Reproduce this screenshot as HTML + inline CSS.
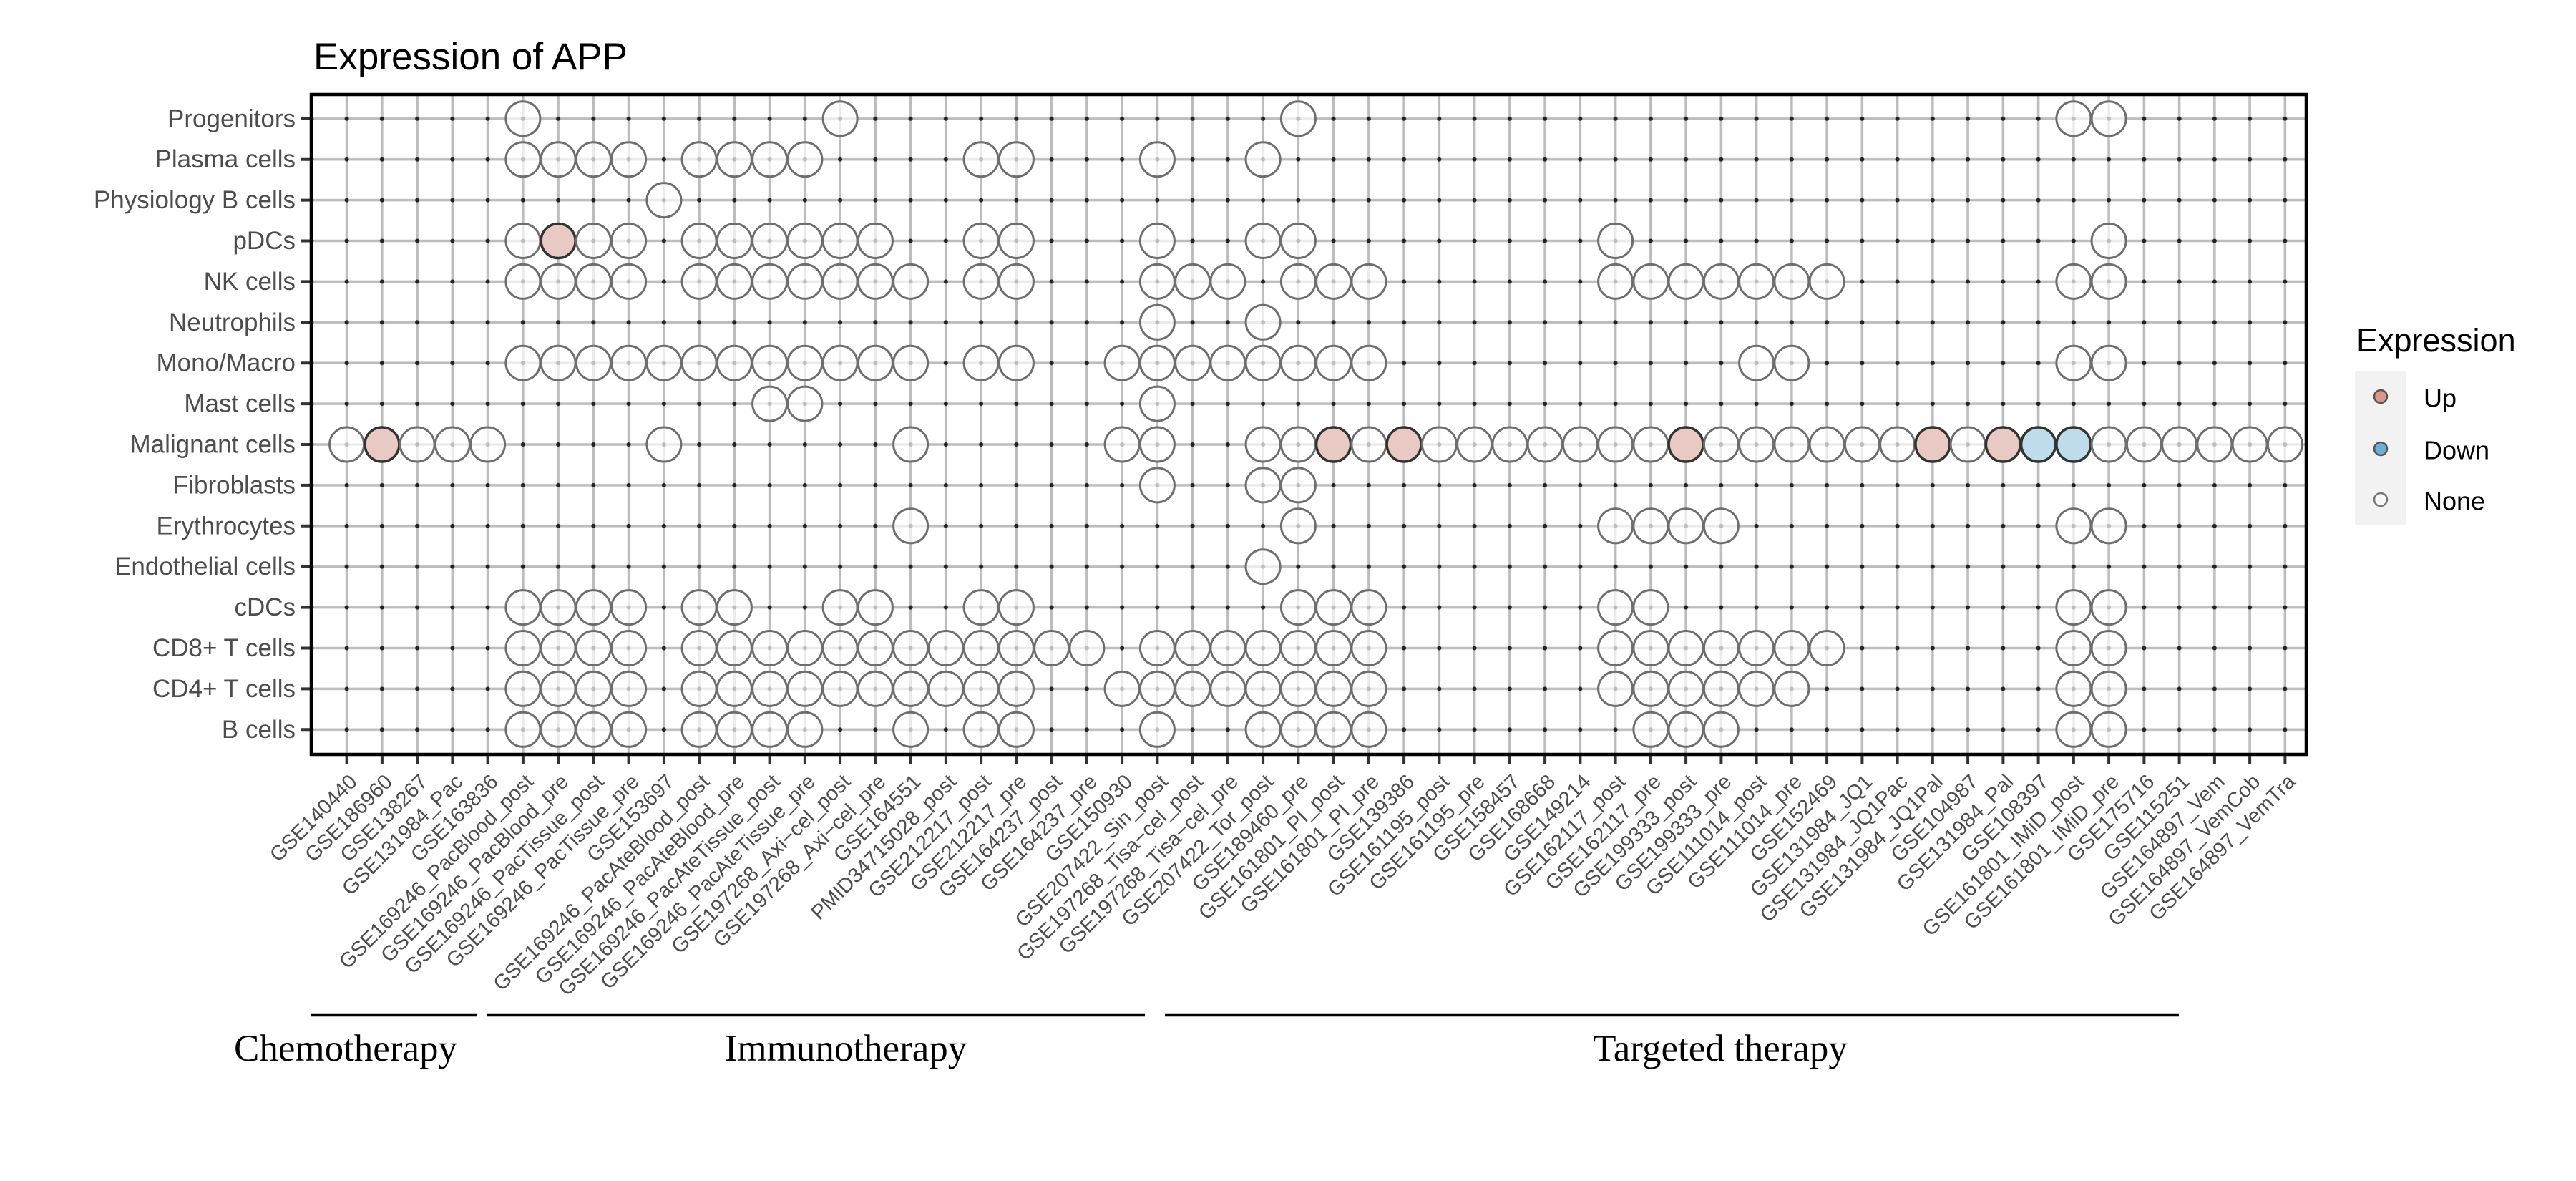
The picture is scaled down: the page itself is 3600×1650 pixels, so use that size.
<!DOCTYPE html>
<html><head><meta charset="utf-8"><style>
html,body{margin:0;padding:0;background:#fff;}
svg{display:block;}
.yl{font-family:"Liberation Sans",sans-serif;font-size:35px;fill:#4d4d4d;text-anchor:end;dominant-baseline:central;}
.xl{font-family:"Liberation Sans",sans-serif;font-size:29px;fill:#4d4d4d;text-anchor:end;}
.n{fill:#fff;fill-opacity:0.7;stroke:#6e6e6e;stroke-width:3;}
.u{fill:#e9c9c4;stroke:#333;stroke-width:3.5;}
.d{fill:#bedcec;stroke:#333;stroke-width:3.5;}
.grp{font-family:"Liberation Serif",serif;font-size:53px;fill:#000;text-anchor:middle;}
</style></head><body>
<svg width="3600" height="1650" viewBox="0 0 3600 1650" xmlns="http://www.w3.org/2000/svg">
<defs>
<pattern id="g" patternUnits="userSpaceOnUse" x="460" y="137.35" width="49.25" height="56.9">
<rect x="22.8" y="0" width="3.6" height="56.9" fill="#bdbdbd"/>
<rect x="0" y="26.7" width="49.25" height="3.5" fill="#bdbdbd"/>
<circle cx="24.6" cy="28.45" r="3" fill="#222"/>
</pattern>
</defs>
<text x="438" y="97" font-family="Liberation Sans, sans-serif" font-size="53" fill="#000">Expression of APP</text>
<rect x="435" y="132" width="2788" height="923" fill="url(#g)"/>

<g class="yl">
<text x="413" y="165.8">Progenitors</text>
<text x="413" y="222.7">Plasma cells</text>
<text x="413" y="279.6">Physiology B cells</text>
<text x="413" y="336.5">pDCs</text>
<text x="413" y="393.4">NK cells</text>
<text x="413" y="450.3">Neutrophils</text>
<text x="413" y="507.2">Mono/Macro</text>
<text x="413" y="564.1">Mast cells</text>
<text x="413" y="621">Malignant cells</text>
<text x="413" y="677.9">Fibroblasts</text>
<text x="413" y="734.8">Erythrocytes</text>
<text x="413" y="791.7">Endothelial cells</text>
<text x="413" y="848.6">cDCs</text>
<text x="413" y="905.5">CD8+ T cells</text>
<text x="413" y="962.4">CD4+ T cells</text>
<text x="413" y="1019.3">B cells</text>
</g>
<path stroke="#333" stroke-width="4" d="M420 165.8H435M420 222.7H435M420 279.6H435M420 336.5H435M420 393.4H435M420 450.3H435M420 507.2H435M420 564.1H435M420 621H435M420 677.9H435M420 734.8H435M420 791.7H435M420 848.6H435M420 905.5H435M420 962.4H435M420 1019.3H435"/>

<g transform="translate(0,165.8)"><circle class="n" r="24" cx="730.9"/><circle class="n" r="24" cx="1174.1"/><circle class="n" r="24" cx="1814.4"/><circle class="n" r="24" cx="2897.9"/><circle class="n" r="24" cx="2947.1"/></g>
<g transform="translate(0,222.7)"><circle class="n" r="24" cx="730.9"/><circle class="n" r="24" cx="780.1"/><circle class="n" r="24" cx="829.4"/><circle class="n" r="24" cx="878.6"/><circle class="n" r="24" cx="977.1"/><circle class="n" r="24" cx="1026.4"/><circle class="n" r="24" cx="1075.6"/><circle class="n" r="24" cx="1124.9"/><circle class="n" r="24" cx="1371.1"/><circle class="n" r="24" cx="1420.4"/><circle class="n" r="24" cx="1617.4"/><circle class="n" r="24" cx="1765.1"/></g>
<g transform="translate(0,279.6)"><circle class="n" r="24" cx="927.9"/></g>
<g transform="translate(0,336.5)"><circle class="n" r="24" cx="730.9"/><circle class="u" r="24" cx="780.1"/><circle class="n" r="24" cx="829.4"/><circle class="n" r="24" cx="878.6"/><circle class="n" r="24" cx="977.1"/><circle class="n" r="24" cx="1026.4"/><circle class="n" r="24" cx="1075.6"/><circle class="n" r="24" cx="1124.9"/><circle class="n" r="24" cx="1174.1"/><circle class="n" r="24" cx="1223.4"/><circle class="n" r="24" cx="1371.1"/><circle class="n" r="24" cx="1420.4"/><circle class="n" r="24" cx="1617.4"/><circle class="n" r="24" cx="1765.1"/><circle class="n" r="24" cx="1814.4"/><circle class="n" r="24" cx="2257.6"/><circle class="n" r="24" cx="2947.1"/></g>
<g transform="translate(0,393.4)"><circle class="n" r="24" cx="730.9"/><circle class="n" r="24" cx="780.1"/><circle class="n" r="24" cx="829.4"/><circle class="n" r="24" cx="878.6"/><circle class="n" r="24" cx="977.1"/><circle class="n" r="24" cx="1026.4"/><circle class="n" r="24" cx="1075.6"/><circle class="n" r="24" cx="1124.9"/><circle class="n" r="24" cx="1174.1"/><circle class="n" r="24" cx="1223.4"/><circle class="n" r="24" cx="1272.6"/><circle class="n" r="24" cx="1371.1"/><circle class="n" r="24" cx="1420.4"/><circle class="n" r="24" cx="1617.4"/><circle class="n" r="24" cx="1666.6"/><circle class="n" r="24" cx="1715.9"/><circle class="n" r="24" cx="1814.4"/><circle class="n" r="24" cx="1863.6"/><circle class="n" r="24" cx="1912.9"/><circle class="n" r="24" cx="2257.6"/><circle class="n" r="24" cx="2306.9"/><circle class="n" r="24" cx="2356.1"/><circle class="n" r="24" cx="2405.4"/><circle class="n" r="24" cx="2454.6"/><circle class="n" r="24" cx="2503.9"/><circle class="n" r="24" cx="2553.1"/><circle class="n" r="24" cx="2897.9"/><circle class="n" r="24" cx="2947.1"/></g>
<g transform="translate(0,450.3)"><circle class="n" r="24" cx="1617.4"/><circle class="n" r="24" cx="1765.1"/></g>
<g transform="translate(0,507.2)"><circle class="n" r="24" cx="730.9"/><circle class="n" r="24" cx="780.1"/><circle class="n" r="24" cx="829.4"/><circle class="n" r="24" cx="878.6"/><circle class="n" r="24" cx="927.9"/><circle class="n" r="24" cx="977.1"/><circle class="n" r="24" cx="1026.4"/><circle class="n" r="24" cx="1075.6"/><circle class="n" r="24" cx="1124.9"/><circle class="n" r="24" cx="1174.1"/><circle class="n" r="24" cx="1223.4"/><circle class="n" r="24" cx="1272.6"/><circle class="n" r="24" cx="1371.1"/><circle class="n" r="24" cx="1420.4"/><circle class="n" r="24" cx="1568.1"/><circle class="n" r="24" cx="1617.4"/><circle class="n" r="24" cx="1666.6"/><circle class="n" r="24" cx="1715.9"/><circle class="n" r="24" cx="1765.1"/><circle class="n" r="24" cx="1814.4"/><circle class="n" r="24" cx="1863.6"/><circle class="n" r="24" cx="1912.9"/><circle class="n" r="24" cx="2454.6"/><circle class="n" r="24" cx="2503.9"/><circle class="n" r="24" cx="2897.9"/><circle class="n" r="24" cx="2947.1"/></g>
<g transform="translate(0,564.1)"><circle class="n" r="24" cx="1075.6"/><circle class="n" r="24" cx="1124.9"/><circle class="n" r="24" cx="1617.4"/></g>
<g transform="translate(0,621)"><circle class="n" r="24" cx="484.6"/><circle class="u" r="24" cx="533.9"/><circle class="n" r="24" cx="583.1"/><circle class="n" r="24" cx="632.4"/><circle class="n" r="24" cx="681.6"/><circle class="n" r="24" cx="927.9"/><circle class="n" r="24" cx="1272.6"/><circle class="n" r="24" cx="1568.1"/><circle class="n" r="24" cx="1617.4"/><circle class="n" r="24" cx="1765.1"/><circle class="n" r="24" cx="1814.4"/><circle class="u" r="24" cx="1863.6"/><circle class="n" r="24" cx="1912.9"/><circle class="u" r="24" cx="1962.1"/><circle class="n" r="24" cx="2011.4"/><circle class="n" r="24" cx="2060.6"/><circle class="n" r="24" cx="2109.9"/><circle class="n" r="24" cx="2159.1"/><circle class="n" r="24" cx="2208.4"/><circle class="n" r="24" cx="2257.6"/><circle class="n" r="24" cx="2306.9"/><circle class="u" r="24" cx="2356.1"/><circle class="n" r="24" cx="2405.4"/><circle class="n" r="24" cx="2454.6"/><circle class="n" r="24" cx="2503.9"/><circle class="n" r="24" cx="2553.1"/><circle class="n" r="24" cx="2602.4"/><circle class="n" r="24" cx="2651.6"/><circle class="u" r="24" cx="2700.9"/><circle class="n" r="24" cx="2750.1"/><circle class="u" r="24" cx="2799.4"/><circle class="d" r="24" cx="2848.6"/><circle class="d" r="24" cx="2897.9"/><circle class="n" r="24" cx="2947.1"/><circle class="n" r="24" cx="2996.4"/><circle class="n" r="24" cx="3045.6"/><circle class="n" r="24" cx="3094.9"/><circle class="n" r="24" cx="3144.1"/><circle class="n" r="24" cx="3193.4"/></g>
<g transform="translate(0,677.9)"><circle class="n" r="24" cx="1617.4"/><circle class="n" r="24" cx="1765.1"/><circle class="n" r="24" cx="1814.4"/></g>
<g transform="translate(0,734.8)"><circle class="n" r="24" cx="1272.6"/><circle class="n" r="24" cx="1814.4"/><circle class="n" r="24" cx="2257.6"/><circle class="n" r="24" cx="2306.9"/><circle class="n" r="24" cx="2356.1"/><circle class="n" r="24" cx="2405.4"/><circle class="n" r="24" cx="2897.9"/><circle class="n" r="24" cx="2947.1"/></g>
<g transform="translate(0,791.7)"><circle class="n" r="24" cx="1765.1"/></g>
<g transform="translate(0,848.6)"><circle class="n" r="24" cx="730.9"/><circle class="n" r="24" cx="780.1"/><circle class="n" r="24" cx="829.4"/><circle class="n" r="24" cx="878.6"/><circle class="n" r="24" cx="977.1"/><circle class="n" r="24" cx="1026.4"/><circle class="n" r="24" cx="1174.1"/><circle class="n" r="24" cx="1223.4"/><circle class="n" r="24" cx="1371.1"/><circle class="n" r="24" cx="1420.4"/><circle class="n" r="24" cx="1814.4"/><circle class="n" r="24" cx="1863.6"/><circle class="n" r="24" cx="1912.9"/><circle class="n" r="24" cx="2257.6"/><circle class="n" r="24" cx="2306.9"/><circle class="n" r="24" cx="2897.9"/><circle class="n" r="24" cx="2947.1"/></g>
<g transform="translate(0,905.5)"><circle class="n" r="24" cx="730.9"/><circle class="n" r="24" cx="780.1"/><circle class="n" r="24" cx="829.4"/><circle class="n" r="24" cx="878.6"/><circle class="n" r="24" cx="977.1"/><circle class="n" r="24" cx="1026.4"/><circle class="n" r="24" cx="1075.6"/><circle class="n" r="24" cx="1124.9"/><circle class="n" r="24" cx="1174.1"/><circle class="n" r="24" cx="1223.4"/><circle class="n" r="24" cx="1272.6"/><circle class="n" r="24" cx="1321.9"/><circle class="n" r="24" cx="1371.1"/><circle class="n" r="24" cx="1420.4"/><circle class="n" r="24" cx="1469.6"/><circle class="n" r="24" cx="1518.9"/><circle class="n" r="24" cx="1617.4"/><circle class="n" r="24" cx="1666.6"/><circle class="n" r="24" cx="1715.9"/><circle class="n" r="24" cx="1765.1"/><circle class="n" r="24" cx="1814.4"/><circle class="n" r="24" cx="1863.6"/><circle class="n" r="24" cx="1912.9"/><circle class="n" r="24" cx="2257.6"/><circle class="n" r="24" cx="2306.9"/><circle class="n" r="24" cx="2356.1"/><circle class="n" r="24" cx="2405.4"/><circle class="n" r="24" cx="2454.6"/><circle class="n" r="24" cx="2503.9"/><circle class="n" r="24" cx="2553.1"/><circle class="n" r="24" cx="2897.9"/><circle class="n" r="24" cx="2947.1"/></g>
<g transform="translate(0,962.4)"><circle class="n" r="24" cx="730.9"/><circle class="n" r="24" cx="780.1"/><circle class="n" r="24" cx="829.4"/><circle class="n" r="24" cx="878.6"/><circle class="n" r="24" cx="977.1"/><circle class="n" r="24" cx="1026.4"/><circle class="n" r="24" cx="1075.6"/><circle class="n" r="24" cx="1124.9"/><circle class="n" r="24" cx="1174.1"/><circle class="n" r="24" cx="1223.4"/><circle class="n" r="24" cx="1272.6"/><circle class="n" r="24" cx="1321.9"/><circle class="n" r="24" cx="1371.1"/><circle class="n" r="24" cx="1420.4"/><circle class="n" r="24" cx="1568.1"/><circle class="n" r="24" cx="1617.4"/><circle class="n" r="24" cx="1666.6"/><circle class="n" r="24" cx="1715.9"/><circle class="n" r="24" cx="1765.1"/><circle class="n" r="24" cx="1814.4"/><circle class="n" r="24" cx="1863.6"/><circle class="n" r="24" cx="1912.9"/><circle class="n" r="24" cx="2257.6"/><circle class="n" r="24" cx="2306.9"/><circle class="n" r="24" cx="2356.1"/><circle class="n" r="24" cx="2405.4"/><circle class="n" r="24" cx="2454.6"/><circle class="n" r="24" cx="2503.9"/><circle class="n" r="24" cx="2897.9"/><circle class="n" r="24" cx="2947.1"/></g>
<g transform="translate(0,1019.3)"><circle class="n" r="24" cx="730.9"/><circle class="n" r="24" cx="780.1"/><circle class="n" r="24" cx="829.4"/><circle class="n" r="24" cx="878.6"/><circle class="n" r="24" cx="977.1"/><circle class="n" r="24" cx="1026.4"/><circle class="n" r="24" cx="1075.6"/><circle class="n" r="24" cx="1124.9"/><circle class="n" r="24" cx="1272.6"/><circle class="n" r="24" cx="1371.1"/><circle class="n" r="24" cx="1420.4"/><circle class="n" r="24" cx="1617.4"/><circle class="n" r="24" cx="1765.1"/><circle class="n" r="24" cx="1814.4"/><circle class="n" r="24" cx="1863.6"/><circle class="n" r="24" cx="1912.9"/><circle class="n" r="24" cx="2306.9"/><circle class="n" r="24" cx="2356.1"/><circle class="n" r="24" cx="2405.4"/><circle class="n" r="24" cx="2897.9"/><circle class="n" r="24" cx="2947.1"/></g>

<rect x="435" y="132" width="2788" height="922" fill="none" stroke="#000" stroke-width="4.5"/>

<path stroke="#333" stroke-width="4" d="M484.6 1056V1068M533.9 1056V1068M583.1 1056V1068M632.4 1056V1068M681.6 1056V1068M730.9 1056V1068M780.1 1056V1068M829.4 1056V1068M878.6 1056V1068M927.9 1056V1068M977.1 1056V1068M1026.4 1056V1068M1075.6 1056V1068M1124.9 1056V1068M1174.1 1056V1068M1223.4 1056V1068M1272.6 1056V1068M1321.9 1056V1068M1371.1 1056V1068M1420.4 1056V1068M1469.6 1056V1068M1518.9 1056V1068M1568.1 1056V1068M1617.4 1056V1068M1666.6 1056V1068M1715.9 1056V1068M1765.1 1056V1068M1814.4 1056V1068M1863.6 1056V1068M1912.9 1056V1068M1962.1 1056V1068M2011.4 1056V1068M2060.6 1056V1068M2109.9 1056V1068M2159.1 1056V1068M2208.4 1056V1068M2257.6 1056V1068M2306.9 1056V1068M2356.1 1056V1068M2405.4 1056V1068M2454.6 1056V1068M2503.9 1056V1068M2553.1 1056V1068M2602.4 1056V1068M2651.6 1056V1068M2700.9 1056V1068M2750.1 1056V1068M2799.4 1056V1068M2848.6 1056V1068M2897.9 1056V1068M2947.1 1056V1068M2996.4 1056V1068M3045.6 1056V1068M3094.9 1056V1068M3144.1 1056V1068M3193.4 1056V1068"/>

<g class="xl">
<text transform="translate(500.6,1094) rotate(-45)">GSE140440</text>
<text transform="translate(549.9,1094) rotate(-45)">GSE186960</text>
<text transform="translate(599.1,1094) rotate(-45)">GSE138267</text>
<text transform="translate(648.4,1094) rotate(-45)">GSE131984_Pac</text>
<text transform="translate(697.6,1094) rotate(-45)">GSE163836</text>
<text transform="translate(746.9,1094) rotate(-45)">GSE169246_PacBlood_post</text>
<text transform="translate(796.1,1094) rotate(-45)">GSE169246_PacBlood_pre</text>
<text transform="translate(845.4,1094) rotate(-45)">GSE169246_PacTissue_post</text>
<text transform="translate(894.6,1094) rotate(-45)">GSE169246_PacTissue_pre</text>
<text transform="translate(943.9,1094) rotate(-45)">GSE153697</text>
<text transform="translate(993.1,1094) rotate(-45)">GSE169246_PacAteBlood_post</text>
<text transform="translate(1042.4,1094) rotate(-45)">GSE169246_PacAteBlood_pre</text>
<text transform="translate(1091.6,1094) rotate(-45)">GSE169246_PacAteTissue_post</text>
<text transform="translate(1140.9,1094) rotate(-45)">GSE169246_PacAteTissue_pre</text>
<text transform="translate(1190.1,1094) rotate(-45)">GSE197268_Axi−cel_post</text>
<text transform="translate(1239.4,1094) rotate(-45)">GSE197268_Axi−cel_pre</text>
<text transform="translate(1288.6,1094) rotate(-45)">GSE164551</text>
<text transform="translate(1337.9,1094) rotate(-45)">PMID34715028_post</text>
<text transform="translate(1387.1,1094) rotate(-45)">GSE212217_post</text>
<text transform="translate(1436.4,1094) rotate(-45)">GSE212217_pre</text>
<text transform="translate(1485.6,1094) rotate(-45)">GSE164237_post</text>
<text transform="translate(1534.9,1094) rotate(-45)">GSE164237_pre</text>
<text transform="translate(1584.1,1094) rotate(-45)">GSE150930</text>
<text transform="translate(1633.4,1094) rotate(-45)">GSE207422_Sin_post</text>
<text transform="translate(1682.6,1094) rotate(-45)">GSE197268_Tisa−cel_post</text>
<text transform="translate(1731.9,1094) rotate(-45)">GSE197268_Tisa−cel_pre</text>
<text transform="translate(1781.1,1094) rotate(-45)">GSE207422_Tor_post</text>
<text transform="translate(1830.4,1094) rotate(-45)">GSE189460_pre</text>
<text transform="translate(1879.6,1094) rotate(-45)">GSE161801_PI_post</text>
<text transform="translate(1928.9,1094) rotate(-45)">GSE161801_PI_pre</text>
<text transform="translate(1978.1,1094) rotate(-45)">GSE139386</text>
<text transform="translate(2027.4,1094) rotate(-45)">GSE161195_post</text>
<text transform="translate(2076.6,1094) rotate(-45)">GSE161195_pre</text>
<text transform="translate(2125.9,1094) rotate(-45)">GSE158457</text>
<text transform="translate(2175.1,1094) rotate(-45)">GSE168668</text>
<text transform="translate(2224.4,1094) rotate(-45)">GSE149214</text>
<text transform="translate(2273.6,1094) rotate(-45)">GSE162117_post</text>
<text transform="translate(2322.9,1094) rotate(-45)">GSE162117_pre</text>
<text transform="translate(2372.1,1094) rotate(-45)">GSE199333_post</text>
<text transform="translate(2421.4,1094) rotate(-45)">GSE199333_pre</text>
<text transform="translate(2470.6,1094) rotate(-45)">GSE111014_post</text>
<text transform="translate(2519.9,1094) rotate(-45)">GSE111014_pre</text>
<text transform="translate(2569.1,1094) rotate(-45)">GSE152469</text>
<text transform="translate(2618.4,1094) rotate(-45)">GSE131984_JQ1</text>
<text transform="translate(2667.6,1094) rotate(-45)">GSE131984_JQ1Pac</text>
<text transform="translate(2716.9,1094) rotate(-45)">GSE131984_JQ1Pal</text>
<text transform="translate(2766.1,1094) rotate(-45)">GSE104987</text>
<text transform="translate(2815.4,1094) rotate(-45)">GSE131984_Pal</text>
<text transform="translate(2864.6,1094) rotate(-45)">GSE108397</text>
<text transform="translate(2913.9,1094) rotate(-45)">GSE161801_IMiD_post</text>
<text transform="translate(2963.1,1094) rotate(-45)">GSE161801_IMiD_pre</text>
<text transform="translate(3012.4,1094) rotate(-45)">GSE175716</text>
<text transform="translate(3061.6,1094) rotate(-45)">GSE115251</text>
<text transform="translate(3110.9,1094) rotate(-45)">GSE164897_Vem</text>
<text transform="translate(3160.1,1094) rotate(-45)">GSE164897_VemCob</text>
<text transform="translate(3209.4,1094) rotate(-45)">GSE164897_VemTra</text>
</g>

<path stroke="#000" stroke-width="4.5" d="M435 1418H666M681 1418H1600M1628 1418H3045"/>
<text class="grp" x="483" y="1482">Chemotherapy</text>
<text class="grp" x="1182" y="1482">Immunotherapy</text>
<text class="grp" x="2404" y="1482">Targeted therapy</text>

<text x="3293" y="491" font-family="Liberation Sans, sans-serif" font-size="45" fill="#000">Expression</text>
<rect x="3291" y="518" width="72" height="216" fill="#f2f2f2"/>
<circle cx="3327" cy="554" r="9" fill="#dc978c" stroke="#555" stroke-width="2.5"/>
<circle cx="3327" cy="627" r="9" fill="#6fafd6" stroke="#555" stroke-width="2.5"/>
<circle cx="3327" cy="698" r="9" fill="#f8f8f8" stroke="#777" stroke-width="2.5"/>
<g font-family="Liberation Sans, sans-serif" font-size="36" fill="#000" dominant-baseline="central">
<text x="3387" y="556">Up</text>
<text x="3387" y="629">Down</text>
<text x="3387" y="700">None</text>
</g>
</svg>
</body></html>
